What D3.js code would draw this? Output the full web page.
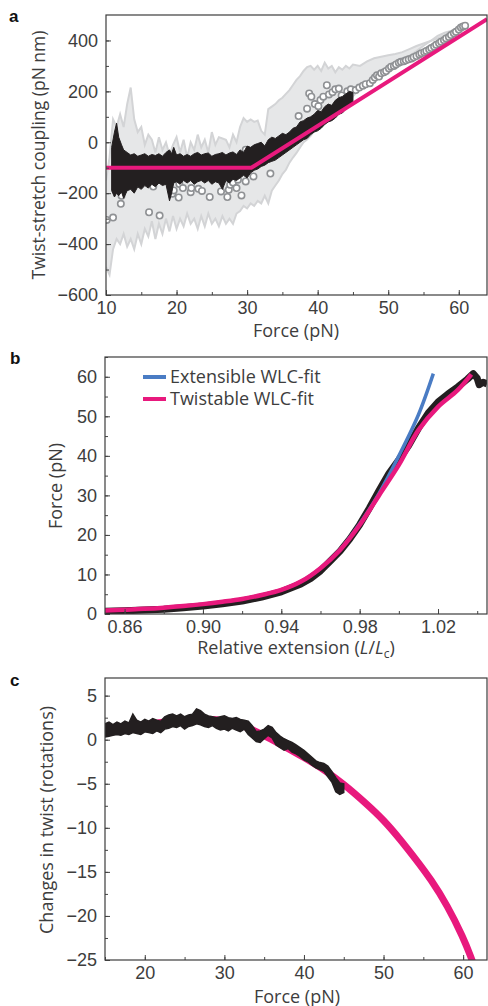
<!DOCTYPE html>
<html>
<head>
<meta charset="utf-8">
<script src="https://cdn.jsdelivr.net/npm/d3@7"></script>
<style>
  body { margin: 0; background: #fff; }
  svg { display: block; font-family: "Open Sans", "DejaVu Sans", sans-serif; font-weight: 400; }
  .tick text { fill: #3d3d3d; font-size: 18px; }
  .tick line { stroke: #444; stroke-width: 1; }
  .lab { fill: #3d3d3d; font-size: 18px; }
  .letter { fill: #111; font-size: 17px; font-weight: 700; font-family: "Liberation Sans", Arial, sans-serif; }
</style>
</head>
<body>
<div id="chart-area"></div>
<script>
// ---------- panel a data ----------
var aBandForce = [
    10, 10.5, 11, 11.5, 12, 12.5, 13, 13.5, 14, 14.5,
    15, 15.5, 16, 16.5, 17, 17.5, 18, 18.5, 19, 19.5,
    20, 20.5, 21, 21.5, 22, 22.5, 23, 23.5, 24, 24.5,
    25, 25.5, 26, 26.5, 27, 27.5, 28, 28.5, 29, 29.5,
    30, 30.5, 31, 31.5, 32, 32.5, 33, 33.5, 34, 34.5,
    35, 35.5, 36, 36.5, 37, 37.5, 38, 38.5, 39, 39.5,
    40, 40.5, 41, 41.5, 42, 42.5, 43, 43.5, 44, 44.5,
    45, 46, 47, 48, 49, 50, 51, 52, 53, 54,
    55, 56, 57, 58, 59, 60, 61];
var aBandHi = [
    -150, -60, 90, 60, 110, 60, 150, 215, 90, 40,
    60, -10, 30, 10, -40, 20, -30, 0, -50, -10,
    20, -40, 10, -60, 0, -30, 30, -20, 10, -40,
    40, -10, 20, 15, 10, -20, 30, 0, 60, 95,
    80, 90, 80, 85, 45, 30, 130, 140, 150, 165,
    175, 190, 205, 225, 245, 260, 280, 295, 300, 285,
    300, 280, 313, 290, 300, 275, 295, 285, 300, 290,
    305, 300, 318, 330, 336, 342, 347, 354, 366, 378,
    388, 398, 408, 420, 435, 448, 460];
var aBandLo = [
    -490, -520, -420, -380, -400, -360, -410, -380, -420, -360,
    -400, -340, -370, -310, -380, -320, -360, -300, -350, -290,
    -340, -300, -330, -280, -320, -300, -340, -290, -330, -280,
    -320, -300, -330, -290, -320, -300, -320, -280, -270, -250,
    -260, -240, -250, -230, -240, -210, -240, -190, -170, -150,
    -125, -108, -80, -60, -42, -20, 0, 11, 25, 43,
    55, 70, 76, 90, 100, 109, 118, 125, 135, 150,
    181, 210, 234, 255, 274, 292, 313, 326, 339, 358,
    379, 398, 418, 430, 438, 442, 455];

var aBlackForce = [10.8, 11.2, 11.5, 11.8, 12.2, 12.5, 13, 13.5, 14, 14.5, 15, 15.5, 16, 16.5, 17, 17.5, 18, 18.5, 19, 19.3, 19.6, 20, 20.5, 21, 21.5, 22, 22.5, 23, 23.5, 24, 24.5, 25, 25.5, 26, 26.5, 27, 27.5, 28, 28.5, 29, 29.5, 30, 30.5, 31, 31.5, 32, 32.5, 33, 33.5, 34, 34.5, 35, 35.5, 36, 36.5, 37, 37.5, 38, 38.5, 39, 39.5, 40, 40.5, 41, 41.5, 42, 42.5, 43, 43.5, 44, 44.5, 45];
var aBlackLo = [-190, -215, -200, -210, -195, -220, -190, -185, -200, -175, -185, -170, -180, -165, -175, -160, -170, -165, -230, -200, -160, -155, -165, -150, -160, -150, -165, -155, -150, -160, -150, -165, -155, -160, -185, -150, -160, -145, -150, -140, -130, -140, -120, -110, -105, -95, -90, -80, -75, -70, -60, -50, -40, -30, -20, -10, 0, 10, 15, 30, 40, 45, 55, 70, 80, 85, 95, 110, 115, 130, 140, 150];
var aBlackHi = [-20, 40, 75, 20, -10, -30, -40, -50, -45, -55, -50, -45, -55, -48, -52, -45, -55, -40, -30, -45, -20, -50, -45, -55, -48, -55, -45, -40, -50, -45, -42, -55, -48, -45, -40, -50, -42, -38, -48, -30, -40, -15, -20, -10, -5, 0, -15, 10, 20, 15, 25, 35, 30, 40, 55, 60, 80, 85, 95, 100, 110, 125, 120, 140, 150, 145, 165, 175, 180, 190, 200, 195];

var aCircleForce = [10.1, 11.0, 12.1, 12.2, 16.1, 16.7, 17.6, 19.4, 19.6, 20.3, 20.4, 20.9, 22.0, 22.1, 23.1, 23.6, 24.7, 25.0, 26.3, 27.2, 27.4, 27.6, 28.0, 28.5, 28.7, 29.2, 29.8, 29.8, 30.4, 30.9, 33.3, 37.3, 38.5, 38.8, 39.1, 39.6, 40.1, 40.4, 40.8, 41.3, 41.6, 42.1, 42.5, 43.0, 43.4, 44.2, 44.7, 45.4, 45.9, 46.4, 46.8, 47.4, 47.8, 48.1, 48.4, 48.7, 49.0, 49.4, 49.7, 50.1, 50.4, 50.8, 51.1, 51.5, 51.8, 52.2, 52.5, 52.9, 53.3, 53.6, 54.0, 54.4, 54.7, 55.1, 55.4, 55.8, 56.1, 56.5, 56.8, 57.2, 57.5, 57.9, 58.2, 58.6, 58.9, 59.3, 59.6, 60.0, 60.3, 60.6, 60.9];
var aCircleVal = [-305, -296, -242, -210, -275, -174, -288, -202, -189, -217, -164, -180, -196, -180, -183, -191, -215, -140, -193, -215, -187, -167, -158, -180, -147, -209, -29, -154, -42, -134, -123, 103, 132, 192, 179, 150, 142, 166, 179, 224, 188, 197, 208, 211, 184, 200, 208, 205, 215, 222, 228, 232, 245, 254, 263, 258, 271, 275, 280, 290, 297, 300, 306, 312, 316, 318, 322, 326, 329, 334, 339, 345, 350, 354, 359, 364, 370, 376, 383, 389, 395, 401, 408, 414, 421, 428, 434, 443, 451, 455, 458];

var aFitForce = [10, 30.6, 64];
var aFitVal = [-100, -100, 484];

// ---------- panel b data ----------
var bDataExt = [0.850, 0.86, 0.87, 0.88, 0.89, 0.90, 0.91, 0.92, 0.93, 0.94, 0.95, 0.955, 0.96, 0.965, 0.97, 0.975, 0.98, 0.985, 0.99, 0.995, 1.000, 1.005, 1.010, 1.015, 1.020, 1.025, 1.030, 1.035, 1.038, 1.040, 1.041, 1.043, 1.045];
var bDataForce = [0.7, 0.8, 1.0, 1.2, 1.6, 2.0, 2.6, 3.3, 4.3, 5.6, 7.6, 9.0, 10.9, 13.4, 15.9, 19.0, 22.6, 26.8, 31.3, 35.6, 39.0, 42.6, 47.0, 50.8, 53.6, 55.6, 57.4, 59.4, 60.8, 59.6, 58.0, 58.6, 58.2];

var bExtFitExt = [0.94, 0.95, 0.96, 0.97, 0.98, 0.99, 1.0, 1.01, 1.0176];
var bExtFitForce = [6.1, 8.2, 11.6, 16.3, 22.8, 30.6, 40.0, 50.4, 60.8];

var bTwFitExt = [0.85, 0.86, 0.87, 0.88, 0.89, 0.90, 0.91, 0.92, 0.93, 0.94, 0.95, 0.96, 0.97, 0.98, 0.99, 1.00, 1.01, 1.02, 1.03, 1.037];
var bTwFitForce = [0.9, 1.1, 1.3, 1.6, 2.0, 2.5, 3.1, 3.8, 4.8, 6.1, 8.2, 11.6, 16.2, 22.5, 30.1, 37.7, 46.5, 52.4, 56.6, 60.6];

var bLegend = ['Extensible WLC-fit', 'Twistable WLC-fit'];

// ---------- panel c data ----------
var cForce = [15, 15.5, 16, 16.5, 17, 17.5, 18, 18.5, 19, 19.5, 20, 20.5, 21, 21.5, 22, 22.5, 23, 23.5, 24, 24.5, 25, 25.5, 26, 26.5, 27, 27.5, 28, 28.5, 29, 29.5, 30, 30.5, 31, 31.5, 32, 32.5, 33, 33.5, 34, 34.5, 35, 35.5, 36, 36.5, 37, 37.5, 38, 38.5, 39, 39.5, 40, 40.5, 41, 41.5, 42, 42.5, 43, 43.5, 44, 44.5, 45];
var cLo = [0.3, 0.4, 0.5, 0.6, 0.5, 0.7, 0.6, 0.8, 0.7, 0.6, 0.9, 0.8, 0.7, 1.0, 0.8, 1.2, 1.3, 1.5, 1.4, 1.6, 1.2, 1.5, 1.6, 1.8, 1.7, 1.5, 1.4, 1.6, 1.3, 1.1, 1.2, 1.0, 1.3, 1.1, 0.9, 1.2, 0.6, 0.2, -0.2, -0.3, 0.1, 0.5, 0.2, -0.6, -0.9, -1.2, -1.0, -1.4, -1.6, -1.9, -2.3, -2.5, -2.9, -3.2, -3.4, -3.6, -4.2, -4.8, -5.9, -6.2, -6.0];
var cHi = [1.8, 2.0, 1.7, 2.0, 1.8, 2.1, 1.9, 2.9, 2.2, 2.0, 2.3, 2.1, 2.4, 2.2, 2.1, 2.6, 2.8, 2.9, 2.7, 2.9, 2.6, 2.8, 2.9, 3.5, 3.3, 2.9, 2.7, 2.6, 2.5, 2.6, 2.7, 2.5, 2.4, 2.5, 2.3, 2.2, 2.1, 1.6, 0.9, 1.0, 1.2, 1.6, 1.4, 0.8, 0.4, 0.1, -0.1, -0.3, -0.6, -0.9, -1.2, -1.6, -2.0, -2.4, -2.6, -2.7, -3.0, -3.6, -4.3, -4.9, -5.0];

var cFitForce = [15, 17, 20, 23, 26, 29, 32, 35, 37, 40, 42, 45, 48, 50, 52, 54, 56, 58, 60, 61, 61.5];
var cFitVal = [0.8, 1.2, 1.7, 2.1, 2.3, 2.35, 1.8, 0.5, -0.5, -2.0, -3.1, -5.0, -7.4, -9.1, -11.2, -13.5, -15.9, -18.8, -22.4, -24.7, -26.0];

var PINK = '#e8197d', BLUE = '#4a7cc4', BLACK = '#231f20';

var svg = d3.select('#chart-area')
    .append('svg')
    .attr('width', 488)
    .attr('height', 1006);

// frame with clip area for the marks
function frame(p) {
    var g = svg.append('g').attr('transform', 'translate(' + p.left + ',' + p.top + ')');
    g.append('clipPath').attr('id', p.id)
        .append('rect').attr('width', p.w).attr('height', p.h);
    p.g = g;
    p.plot = g.append('g').attr('clip-path', 'url(#' + p.id + ')');
    return p;
}

// inward ticks: minor (no labels) + major (labels), then the box
function axes(p, xMinor, xMajor, xFmt, yMinor, yMajor, yFmt) {
    var g = p.g;
    g.append('g').attr('transform', 'translate(0,' + p.h + ')')
        .call(d3.axisBottom(p.x).tickValues(xMinor).tickSize(-3).tickFormat(''));
    g.append('g').attr('transform', 'translate(0,' + p.h + ')')
        .call(d3.axisBottom(p.x).tickValues(xMajor).tickSize(-5).tickPadding(6).tickFormat(xFmt));
    g.append('g')
        .call(d3.axisLeft(p.y).tickValues(yMinor).tickSize(-3).tickFormat(''));
    g.append('g')
        .call(d3.axisLeft(p.y).tickValues(yMajor).tickSize(-5).tickPadding(8).tickFormat(yFmt));
    g.selectAll('.domain').remove();
    g.selectAll('.tick text').attr('font-family', null).attr('font-size', null);
    g.append('rect')
        .attr('width', p.w).attr('height', p.h)
        .attr('fill', 'none').attr('stroke', '#3c3c3c').attr('stroke-width', 1.2);
}

function range(a, b, s) {
    var out = [];
    for (var v = a; v <= b + 1e-9; v += s) out.push(+v.toFixed(4));
    return out;
}

// ---------------- panel a ----------------
var pa = frame({ id: 'clipA', left: 106, top: 15, w: 381, h: 280 });
pa.x = d3.scaleLinear().domain([10, 64]).range([0, pa.w]);
pa.y = d3.scaleLinear().domain([-600, 500]).range([pa.h, 0]);

var band = aBandForce.map(function (f, i) { return { f: f, lo: aBandLo[i], hi: aBandHi[i] }; });
pa.plot.append('path').datum(band)
    .attr('fill', '#e6e7e8')
    .attr('d', d3.area().x(function (d) { return pa.x(d.f); })
        .y0(function (d) { return pa.y(d.lo); }).y1(function (d) { return pa.y(d.hi); }));
pa.plot.append('path').datum(band)
    .attr('fill', 'none').attr('stroke', '#d3d4d6').attr('stroke-width', 2)
    .attr('d', d3.line().x(function (d) { return pa.x(d.f); }).y(function (d) { return pa.y(d.hi); }));
pa.plot.append('path').datum(band)
    .attr('fill', 'none').attr('stroke', '#d3d4d6').attr('stroke-width', 2)
    .attr('d', d3.line().x(function (d) { return pa.x(d.f); }).y(function (d) { return pa.y(d.lo); }));

pa.plot.selectAll('circle')
    .data(aCircleForce)
    .enter()
    .append('circle')
    .attr('cx', function (d) { return pa.x(d); })
    .attr('cy', function (d, i) { return pa.y(aCircleVal[i]); })
    .attr('r', 3.2)
    .attr('fill', '#fff')
    .attr('stroke', '#8f9194')
    .attr('stroke-width', 1.6);

var blackA = aBlackForce.map(function (f, i) { return { f: f, lo: aBlackLo[i], hi: aBlackHi[i] }; });
pa.plot.append('path').datum(blackA)
    .attr('fill', BLACK).attr('stroke', BLACK).attr('stroke-width', 1)
    .attr('d', d3.area().x(function (d) { return pa.x(d.f); })
        .y0(function (d) { return pa.y(d.lo); }).y1(function (d) { return pa.y(d.hi); }));

pa.plot.append('path')
    .datum(aFitForce.map(function (f, i) { return [f, aFitVal[i]]; }))
    .attr('fill', 'none').attr('stroke', PINK).attr('stroke-width', 4)
    .attr('d', d3.line().x(function (d) { return pa.x(d[0]); }).y(function (d) { return pa.y(d[1]); }));

axes(pa, range(10, 60, 5), range(10, 60, 10), d3.format('d'),
    range(-600, 400, 100), range(-600, 400, 200), d3.format('d'));

svg.append('text').attr('class', 'lab')
    .attr('transform', 'translate(45,155) rotate(-90)')
    .attr('text-anchor', 'middle')
    .style('font-size', '17.5px')
    .text('Twist-stretch coupling (pN nm)');
svg.append('text').attr('class', 'lab')
    .attr('x', 296).attr('y', 337).attr('text-anchor', 'middle')
    .text('Force (pN)');
svg.append('text').attr('class', 'letter').attr('x', 9).attr('y', 22).text('a');

// ---------------- panel b ----------------
var pb = frame({ id: 'clipB', left: 105, top: 357, w: 382, h: 257 });
pb.x = d3.scaleLinear().domain([0.85, 1.045]).range([0, pb.w]);
pb.y = d3.scaleLinear().domain([0, 65]).range([pb.h, 0]);

var lineB = d3.line().curve(d3.curveCatmullRom)
    .x(function (d) { return pb.x(d[0]); }).y(function (d) { return pb.y(d[1]); });

pb.plot.append('path')
    .datum(bDataExt.map(function (e, i) { return [e, bDataForce[i]]; }))
    .attr('fill', 'none').attr('stroke', BLACK).attr('stroke-width', 7).attr('stroke-linejoin', 'round')
    .attr('d', d3.line().x(function (d) { return pb.x(d[0]); }).y(function (d) { return pb.y(d[1]); }));
pb.plot.append('path')
    .datum(bExtFitExt.map(function (e, i) { return [e, bExtFitForce[i]]; }))
    .attr('fill', 'none').attr('stroke', BLUE).attr('stroke-width', 3.5)
    .attr('d', lineB);
pb.plot.append('path')
    .datum(bTwFitExt.map(function (e, i) { return [e, bTwFitForce[i]]; }))
    .attr('fill', 'none').attr('stroke', PINK).attr('stroke-width', 4.5)
    .attr('d', lineB);

axes(pb, range(0.86, 1.04, 0.02), [0.86, 0.90, 0.94, 0.98, 1.02], d3.format('.2f'),
    range(0, 65, 5), range(0, 60, 10), d3.format('d'));

var legend = pb.g.selectAll('.legend')
    .data(bLegend)
    .enter()
    .append('g')
    .attr('class', 'legend')
    .attr('transform', function (d, i) { return 'translate(38,' + (20 + i * 22) + ')'; });
legend.append('line')
    .attr('x1', 0).attr('x2', 23)
    .attr('stroke', function (d, i) { return i === 0 ? BLUE : PINK; })
    .attr('stroke-width', 4);
legend.append('text').attr('class', 'lab')
    .attr('x', 27).attr('y', 6)
    .text(function (d) { return d; });

svg.append('text').attr('class', 'lab')
    .attr('transform', 'translate(62,486) rotate(-90)')
    .attr('text-anchor', 'middle')
    .text('Force (pN)');
var xl = svg.append('text').attr('class', 'lab')
    .attr('x', 296).attr('y', 654).attr('text-anchor', 'middle');
xl.append('tspan').text('Relative extension (');
xl.append('tspan').attr('font-style', 'italic').text('L');
xl.append('tspan').text('/');
xl.append('tspan').attr('font-style', 'italic').text('L');
xl.append('tspan').attr('font-size', '12px').attr('dy', 4).text('c');
xl.append('tspan').attr('dy', -4).text(')');
svg.append('text').attr('class', 'letter').attr('x', 10).attr('y', 364).text('b');

// ---------------- panel c ----------------
var pc = frame({ id: 'clipC', left: 105, top: 678, w: 382, h: 282 });
pc.x = d3.scaleLinear().domain([15, 63]).range([0, pc.w]);
pc.y = d3.scaleLinear().domain([-25, 7]).range([pc.h, 0]);

pc.plot.append('path')
    .datum(cFitForce.map(function (f, i) { return [f, cFitVal[i]]; }))
    .attr('fill', 'none').attr('stroke', PINK).attr('stroke-width', 7)
    .attr('d', d3.line().curve(d3.curveBasis)
        .x(function (d) { return pc.x(d[0]); }).y(function (d) { return pc.y(d[1]); }));

var blackC = cForce.map(function (f, i) { return { f: f, lo: cLo[i], hi: cHi[i] }; });
pc.plot.append('path').datum(blackC)
    .attr('fill', BLACK).attr('stroke', BLACK).attr('stroke-width', 1.5)
    .attr('d', d3.area().x(function (d) { return pc.x(d.f); })
        .y0(function (d) { return pc.y(d.lo); }).y1(function (d) { return pc.y(d.hi); }));

axes(pc, range(15, 60, 5), range(20, 60, 10), d3.format('d'),
    range(-25, 5, 2.5), range(-25, 5, 5), d3.format('d'));

svg.append('text').attr('class', 'lab')
    .attr('transform', 'translate(53,820) rotate(-90)')
    .attr('text-anchor', 'middle')
    .text('Changes in twist (rotations)');
svg.append('text').attr('class', 'lab')
    .attr('x', 297).attr('y', 1003).attr('text-anchor', 'middle')
    .text('Force (pN)');
svg.append('text').attr('class', 'letter').attr('x', 10).attr('y', 686).text('c');
</script>
</body>
</html>
